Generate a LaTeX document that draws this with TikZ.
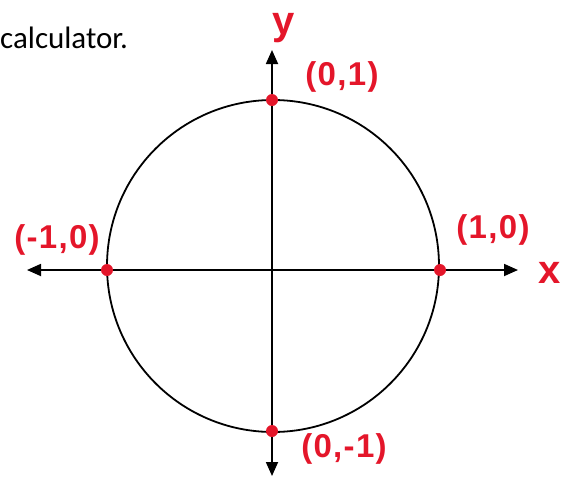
\documentclass[tikz,border=0pt]{standalone}
\usepackage{fontspec}
\setmainfont{Liberation Sans}
\newfontfamily\calib{Carlito}
\newfontfamily\hand[LetterSpace=4]{Liberation Sans}
\usetikzlibrary{arrows.meta}
\definecolor{penred}{RGB}{228,22,42}
\begin{document}
\begin{tikzpicture}[x=1pt,y=-1pt,
  axis/.style={line width=1.8pt,
    {Triangle[length=14pt,width=12pt]}-{Triangle[length=14pt,width=12pt]}},
  ring/.style={draw, circle, line width=1.8pt, minimum size=332pt, inner sep=0pt},
  dot/.style={circle, fill=penred, minimum size=12pt, inner sep=0pt},
  lab/.style={text=penred, font=\hand\bfseries\fontsize{33}{33}\selectfont, inner sep=0pt},
  axlab/.style={text=penred, font=\hand\bfseries\fontsize{40}{40}\selectfont, inner sep=0pt}]
\useasboundingbox (0,0) rectangle (563,477);
\node[anchor=base west, font=\calib\fontsize{31}{31}\selectfont, inner sep=0pt] (cap) at (0,48) {calculator.};
\node[ring] (unit) at (273,266) {};
\coordinate (xl) at (27,270);
\coordinate (xr) at (518,270);
\coordinate (yt) at (272,50);
\coordinate (yb) at (272,476);
\draw[axis] (xl) -- (xr);
\draw[axis] (yb) -- (yt);
\node[dot] (p10) at (440,270) {};
\node[dot] (m10) at (107,270) {};
\node[dot] (p01) at (272,100) {};
\node[dot] (m01) at (272,431) {};
\node[lab] (l01) at (342,77) {(0,1)};
\node[lab] (lm10) at (57,240) {(-1,0)};
\node[lab] (l10) at (493,230) {(1,0)};
\node[lab] (l0m1) at (344,449) {(0,-1)};
\node[axlab] (ly) at (284,28) {y};
\node[axlab, anchor=east] (lx) at (561,273) {x};
\end{tikzpicture}
\end{document}
